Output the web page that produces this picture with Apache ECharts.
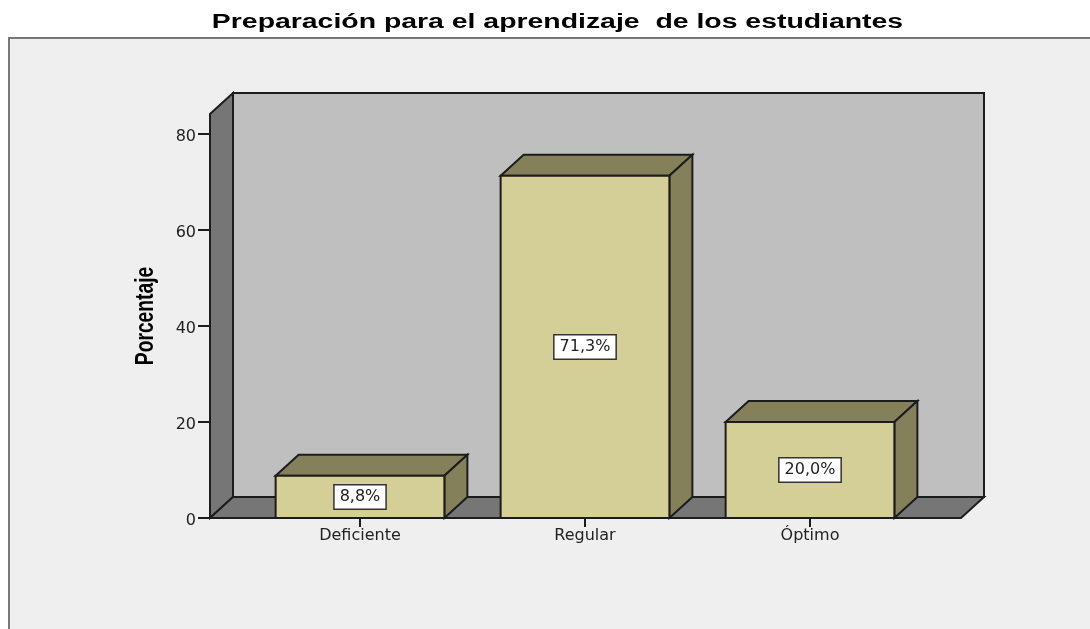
<!DOCTYPE html>
<html>
<head>
<meta charset="utf-8">
<style>
  html, body { margin: 0; padding: 0; background: #fff; overflow: hidden; }
  #chart { width: 1090px; height: 629px; }
</style>
<script src="https://cdn.jsdelivr.net/npm/echarts@6/dist/echarts.min.js"></script>
</head>
<body>
<div id="chart"></div>
<script>
const categories = ['Deficiente', 'Regular', 'Óptimo']
const values = [8.8, 71.3, 20.0]
const yTicks = [0, 20, 40, 60, 80]
const titleText = 'Preparación para el aprendizaje  de los estudiantes'
const yName = 'Porcentaje'

const chart = echarts.init(document.getElementById('chart'))

// 3d offset of the box, same for walls and bars
const DX = 23
const DY = 21
const LINE = '#1c1c1c'

function box(x0, x1, y0, y1, colors) {
  return [
    { type: 'polygon', shape: { points: [[x0, y1], [x1, y1], [x1 + DX, y1 - DY], [x0 + DX, y1 - DY]] }, style: { fill: colors.side, stroke: LINE, lineWidth: 2 } },
    { type: 'polygon', shape: { points: [[x1, y0], [x1 + DX, y0 - DY], [x1 + DX, y1 - DY], [x1, y1]] }, style: { fill: colors.side, stroke: LINE, lineWidth: 2 } },
    { type: 'rect', shape: { x: x0, y: y1, width: x1 - x0, height: y0 - y1 }, style: { fill: colors.front, stroke: LINE, lineWidth: 2 } },
  ]
}

function renderWalls(params, api) {
  const cs = params.coordSys
  const left = cs.x - 37.5
  const right = cs.x + cs.width + 38.5
  const top = cs.y
  const bottom = cs.y + cs.height
  return {
    type: 'group',
    children: [
      { type: 'rect', shape: { x: left + DX, y: top - DY, width: right - left, height: bottom - top }, style: { fill: '#bfbfbf', stroke: LINE, lineWidth: 2 } },
      { type: 'polygon', shape: { points: [[left, top], [left + DX, top - DY], [left + DX, bottom - DY], [left, bottom]] }, style: { fill: '#767676', stroke: LINE, lineWidth: 2 } },
      { type: 'polygon', shape: { points: [[left, bottom], [right, bottom], [right + DX, bottom - DY], [left + DX, bottom - DY]] }, style: { fill: '#767676', stroke: LINE, lineWidth: 2 } },
    ],
  }
}

function renderBar(params, api) {
  const base = api.coord([api.value(0), 0])
  const tip = api.coord([api.value(0), api.value(1)])
  const w = api.size([1, 0])[0] * 0.75
  const x0 = base[0] - w / 2
  const x1 = base[0] + w / 2
  return {
    type: 'group',
    children: box(x0, x1, base[1], tip[1], { front: '#d3cf96', side: '#84805a' }).concat([
      {
        type: 'text',
        x: base[0],
        y: (base[1] + tip[1]) / 2,
        style: {
          text: api.value(1).toFixed(1).replace('.', ',') + '%',
          font: '16px "DejaVu Sans"',
          fill: '#222',
          align: 'center',
          verticalAlign: 'middle',
          backgroundColor: '#fff',
          borderColor: '#333',
          borderWidth: 1.5,
          padding: [4, 5, 3, 5],
        },
      },
    ]),
  }
}

chart.setOption({
  backgroundColor: '#fff',
  animation: false,
  graphic: [
    {
      type: 'rect',
      z: -10,
      shape: { x: 9, y: 38, width: 1090, height: 600 },
      style: { fill: '#efefef', stroke: '#777', lineWidth: 2 },
    },
    // the original type is stretched, so these two are scaled texts
    {
      type: 'text',
      x: 557.5,
      y: 22.5,
      scaleX: 1.42,
      style: {
        text: titleText,
        font: 'bold 20px "Liberation Sans"',
        fill: '#000',
        align: 'center',
        verticalAlign: 'middle',
      },
    },
    {
      type: 'text',
      x: 146,
      y: 316,
      rotation: Math.PI / 2,
      scaleX: 0.74,
      style: {
        text: yName,
        font: 'bold 26px "Liberation Sans"',
        fill: '#000',
        align: 'center',
        verticalAlign: 'middle',
      },
    },
  ],
  grid: { left: 247.5, width: 675, top: 114, height: 404 },
  xAxis: {
    type: 'category',
    data: categories,
    axisLine: { show: false },
    axisTick: { show: true, alignWithLabel: true, length: 9, lineStyle: { color: LINE, width: 2 } },
    axisLabel: { color: '#222', fontFamily: 'DejaVu Sans', fontSize: 16, margin: 10 },
  },
  yAxis: {
    type: 'value',
    min: 0,
    max: 84.17,
    offset: 37.5,
    splitLine: { show: false },
    axisLine: { show: false },
    axisTick: { show: true, length: 12, customValues: yTicks, lineStyle: { color: LINE, width: 2 } },
    axisLabel: { color: '#222', fontFamily: 'DejaVu Sans', fontSize: 16, margin: 14, verticalAlign: 'top', lineHeight: 5, customValues: yTicks },
  },
  series: [
    { type: 'custom', z: 1, silent: true, clip: false, renderItem: renderWalls, data: [[0, 0]] },
    {
      type: 'custom',
      z: 2,
      clip: false,
      renderItem: renderBar,
      encode: { x: 0, y: 1 },
      data: values.map((v, i) => [i, v]),
    },
  ],
})
</script>
</body>
</html>
